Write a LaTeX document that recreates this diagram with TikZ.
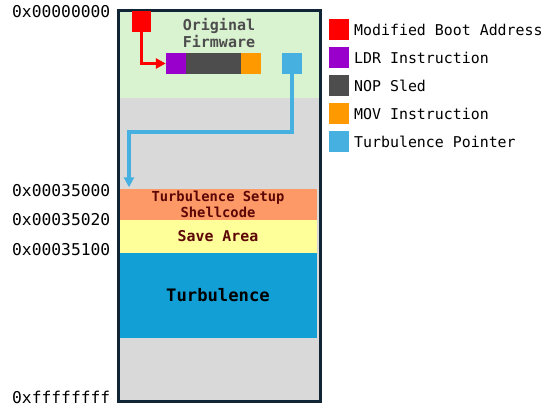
\documentclass[tikz,border=0pt]{standalone}
\usepackage{fontspec}
\setmonofont{DejaVu Sans Mono}
\usetikzlibrary{arrows.meta}

\definecolor{framec}{HTML}{102637}
\definecolor{romgreen}{HTML}{D9F2D0}
\definecolor{memgray}{HTML}{D9D9D9}
\definecolor{setupc}{HTML}{FD9966}
\definecolor{savec}{HTML}{FFFF99}
\definecolor{turbc}{HTML}{119FD6}
\definecolor{maroon}{HTML}{5C0606}
\definecolor{bootred}{HTML}{FF0000}
\definecolor{ldrc}{HTML}{9900CC}
\definecolor{nopc}{HTML}{4D4D4D}
\definecolor{movc}{HTML}{FF9900}
\definecolor{ptrc}{HTML}{46B0E0}

\tikzset{
  addr/.style={anchor=base east, inner sep=0, font=\ttfamily\fontsize{16.3}{18}\selectfont},
  chip/.style={rectangle, inner sep=0, minimum width=20, minimum height=21},
  legtext/.style={anchor=base west, inner sep=0, font=\ttfamily\fontsize{14.9}{17}\selectfont},
  region/.style={rectangle, inner sep=0, minimum width=198, text=maroon, align=center},
  link/.style={line width=3.4, -{Triangle[length=10,width=10]}},
}

\begin{document}
\begin{tikzpicture}[x=1pt,y=-1pt]
  \useasboundingbox (0,0) rectangle (543,410);

  % memory map background
  \fill[memgray] (118,10.5) rectangle (320,401);
  \fill[romgreen] (119.5,12) rectangle (318.5,98);

  \node[font=\ttfamily\bfseries\fontsize{15}{17.5}\selectfont, text=nopc, align=center]
    (fw) at (219,33) {Original\\Firmware};

  % regions loaded in RAM
  \node[region, fill=setupc, minimum height=31, font=\ttfamily\bfseries\fontsize{13.8}{16}\selectfont]
    (setup) at (218,204.5) {Turbulence Setup\\Shellcode};
  \node[region, fill=savec, minimum height=33, font=\ttfamily\bfseries\fontsize{14.9}{17}\selectfont]
    (save) at (218,236.5) {Save Area};
  \node[region, fill=turbc, minimum height=85, text=black, font=\ttfamily\bfseries\fontsize{17.2}{20}\selectfont]
    (turb) at (218,295.5) {Turbulence};

  \draw[framec, line width=3] (118,10.5) rectangle (320,401);

  % patched firmware words
  \node[chip, fill=bootred, minimum width=19] (boot) at (141.5,21.5) {};
  \node[chip, fill=ldrc] (ldr) at (176,63.5) {};
  \node[chip, fill=nopc, minimum width=55] (nop) at (213.5,63.5) {};
  \node[chip, fill=movc] (mov) at (251,63.5) {};
  \node[chip, fill=ptrc] (ptr) at (292,63.5) {};

  \draw[link, bootred] (boot.south) |- (ldr.west);
  \coordinate (turn) at (129,132);
  \draw[link, ptrc, shorten >=1.5] (ptr.south) |- (turn) -- (turn |- setup.north);

  % addresses
  \node[addr] (a0) at (110.5,17.8) {0x00000000};
  \node[addr] (a1) at (110.5,196.5) {0x00035000};
  \node[addr] (a2) at (110.5,225.8) {0x00035020};
  \node[addr] (a3) at (110.5,255.8) {0x00035100};
  \node[addr] (a4) at (110.5,403.8) {0xffffffff};

  % legend
  \node[chip, fill=bootred] (kboot) at (339,29.5) {};
  \node[legtext] (tboot) at (354,35) {Modified Boot Address};
  \node[chip, fill=ldrc] (kldr) at (339,57.5) {};
  \node[legtext] (tldr) at (354,63) {LDR Instruction};
  \node[chip, fill=nopc] (knop) at (339,85.5) {};
  \node[legtext] (tnop) at (354,91) {NOP Sled};
  \node[chip, fill=movc] (kmov) at (339,113.5) {};
  \node[legtext] (tmov) at (354,119) {MOV Instruction};
  \node[chip, fill=ptrc] (kptr) at (339,141.5) {};
  \node[legtext] (tptr) at (354,147) {Turbulence Pointer};
\end{tikzpicture}
\end{document}
